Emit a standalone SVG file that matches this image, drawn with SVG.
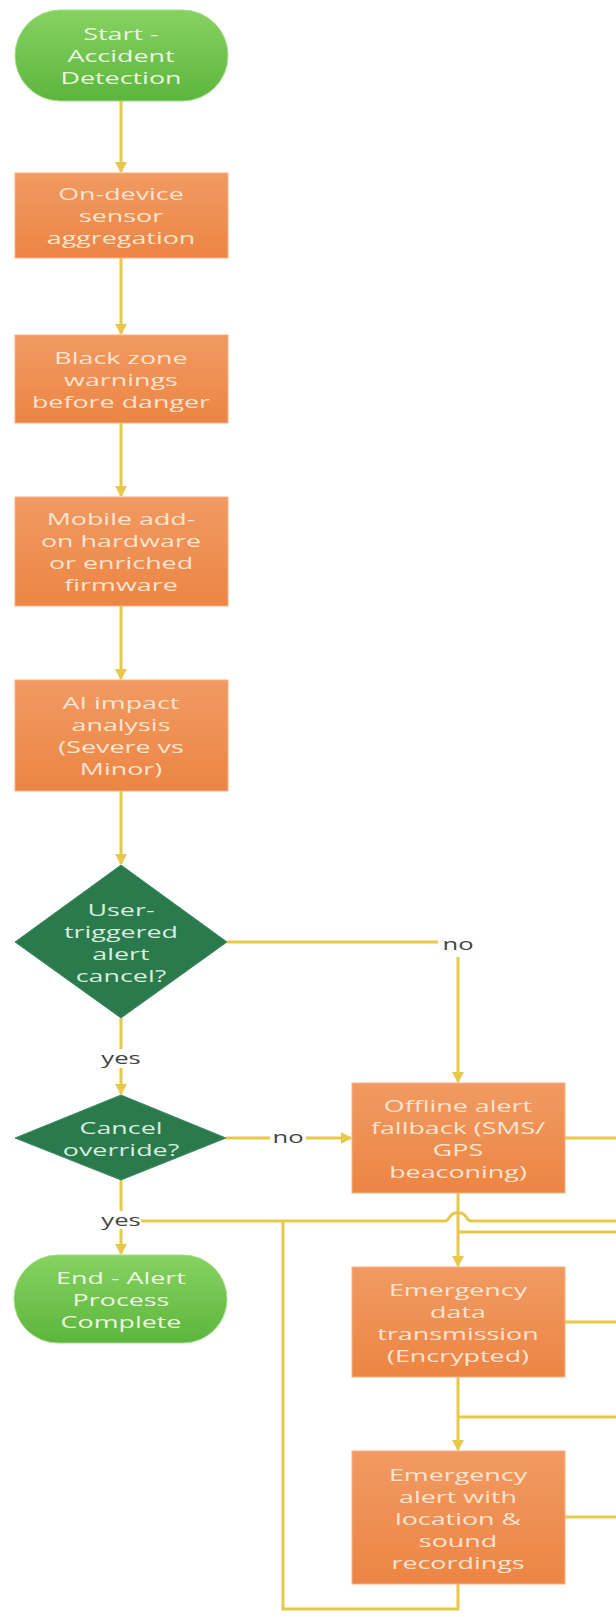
<svg xmlns="http://www.w3.org/2000/svg" width="616" height="1617" viewBox="0 0 616 1617">
<style>
.conn{fill:none;stroke:#e7c84a;stroke-width:3}
.box{fill:url(#og);stroke:#f6b285;stroke-width:1}
.term{fill:url(#gg);stroke:#a6dc8a;stroke-width:1}
.dia{fill:#2b7a4d;stroke:#3d8c5e;stroke-width:1}
.t{font-family:"Open Sans","Noto Sans",sans-serif;font-size:17px;text-anchor:middle}
.tb{fill:#fde4d0}
.tg{fill:#ecf7e0}
.td{fill:#d8eede}
.lbl{font-family:"Open Sans","Noto Sans",sans-serif;font-size:16px;text-anchor:middle;fill:#444444}
</style>
<defs>
<linearGradient id="og" x1="0" y1="0" x2="0" y2="1"><stop offset="0" stop-color="#f19a62"/><stop offset="1" stop-color="#ec8544"/></linearGradient>
<linearGradient id="gg" x1="0" y1="0" x2="0" y2="1"><stop offset="0" stop-color="#86d262"/><stop offset="1" stop-color="#5cb63c"/></linearGradient>
<marker id="ah" markerUnits="userSpaceOnUse" markerWidth="12" markerHeight="12" refX="10" refY="6" orient="auto"><path d="M0,0 L11,6 L0,12 z" fill="#e7c84a"/></marker>
</defs>
<rect width="616" height="1617" fill="#ffffff"/>
<g id="connectors">
<path class="conn" d="M121,100 V172" marker-end="url(#ah)"/>
<path class="conn" d="M121,258 V334" marker-end="url(#ah)"/>
<path class="conn" d="M121,423 V496" marker-end="url(#ah)"/>
<path class="conn" d="M121,606 V679" marker-end="url(#ah)"/>
<path class="conn" d="M121,791 V864" marker-end="url(#ah)"/>
<path class="conn" d="M227,942 H438"/>
<path class="conn" d="M458,957 V1082" marker-end="url(#ah)"/>
<path class="conn" d="M121,1018 V1049"/>
<path class="conn" d="M121,1068 V1094" marker-end="url(#ah)"/>
<path class="conn" d="M226,1138 H270"/>
<path class="conn" d="M306,1138 H351" marker-end="url(#ah)"/>
<path class="conn" d="M121,1180 V1211"/>
<path class="conn" d="M121,1229 V1254" marker-end="url(#ah)"/>
<path class="conn" d="M458,1193 V1266" marker-end="url(#ah)"/>
<path class="conn" d="M565,1138 H616"/>
<path class="conn" d="M616,1221 H471 C466,1221 467,1213 460,1213 H456 C449,1213 450,1221 445,1221 H141"/>
<path class="conn" d="M283,1221 V1609 H458 V1584"/>
<path class="conn" d="M616,1232 H458"/>
<path class="conn" d="M565,1322 H616"/>
<path class="conn" d="M458,1377 V1450" marker-end="url(#ah)"/>
<path class="conn" d="M616,1417 H458"/>
<path class="conn" d="M565,1517 H616"/>
<g transform="translate(458,0) scale(1.6,1)"><text class="lbl" x="0" y="950">no</text></g>
<g transform="translate(121,0) scale(1.6,1)"><text class="lbl" x="0" y="1064">yes</text></g>
<g transform="translate(288,0) scale(1.6,1)"><text class="lbl" x="0" y="1143">no</text></g>
<g transform="translate(121,0) scale(1.6,1)"><text class="lbl" x="0" y="1226">yes</text></g>
</g>
<g id="start">
<rect class="term" x="15" y="10" width="213" height="91" rx="45.5"/>
<g transform="translate(121,0) scale(1.58,1)"><text class="t tg" x="0" y="40">Start -</text><text class="t tg" x="0" y="62">Accident</text><text class="t tg" x="0" y="84">Detection</text></g>
</g>
<g id="sensor">
<rect class="box" x="15" y="173" width="213" height="85"/>
<g transform="translate(121,0) scale(1.58,1)"><text class="t tb" x="0" y="200.5">On-device</text><text class="t tb" x="0" y="222.5">sensor</text><text class="t tb" x="0" y="244.5">aggregation</text></g>
</g>
<g id="blackzone">
<rect class="box" x="15" y="335" width="213" height="88"/>
<g transform="translate(121,0) scale(1.58,1)"><text class="t tb" x="0" y="364">Black zone</text><text class="t tb" x="0" y="386">warnings</text><text class="t tb" x="0" y="408">before danger</text></g>
</g>
<g id="hardware">
<rect class="box" x="15" y="497" width="213" height="109"/>
<g transform="translate(121,0) scale(1.58,1)"><text class="t tb" x="0" y="525.5">Mobile add-</text><text class="t tb" x="0" y="547.5">on hardware</text><text class="t tb" x="0" y="569.5">or enriched</text><text class="t tb" x="0" y="591.5">firmware</text></g>
</g>
<g id="ai">
<rect class="box" x="15" y="680" width="213" height="111"/>
<g transform="translate(121,0) scale(1.58,1)"><text class="t tb" x="0" y="709.5">AI impact</text><text class="t tb" x="0" y="731.5">analysis</text><text class="t tb" x="0" y="753.5">(Severe vs</text><text class="t tb" x="0" y="775.5">Minor)</text></g>
</g>
<g id="usercancel">
<polygon class="dia" points="121,865 227,942 121,1018 15,942"/>
<g transform="translate(121,0) scale(1.58,1)"><text class="t td" x="0" y="916">User-</text><text class="t td" x="0" y="938">triggered</text><text class="t td" x="0" y="960">alert</text><text class="t td" x="0" y="982">cancel?</text></g>
</g>
<g id="override">
<polygon class="dia" points="121,1095 226,1138 121,1180 15,1138"/>
<g transform="translate(121,0) scale(1.58,1)"><text class="t td" x="0" y="1134">Cancel</text><text class="t td" x="0" y="1156">override?</text></g>
</g>
<g id="offline">
<rect class="box" x="352" y="1083" width="213" height="110"/>
<g transform="translate(458,0) scale(1.58,1)"><text class="t tb" x="0" y="1112">Offline alert</text><text class="t tb" x="0" y="1134">fallback (SMS/</text><text class="t tb" x="0" y="1156">GPS</text><text class="t tb" x="0" y="1178">beaconing)</text></g>
</g>
<g id="end">
<rect class="term" x="14" y="1255" width="213" height="88" rx="44"/>
<g transform="translate(121,0) scale(1.58,1)"><text class="t tg" x="0" y="1284">End - Alert</text><text class="t tg" x="0" y="1306">Process</text><text class="t tg" x="0" y="1328">Complete</text></g>
</g>
<g id="datatx">
<rect class="box" x="352" y="1267" width="213" height="110"/>
<g transform="translate(458,0) scale(1.58,1)"><text class="t tb" x="0" y="1296">Emergency</text><text class="t tb" x="0" y="1318">data</text><text class="t tb" x="0" y="1340">transmission</text><text class="t tb" x="0" y="1362">(Encrypted)</text></g>
</g>
<g id="alert">
<rect class="box" x="352" y="1451" width="213" height="133"/>
<g transform="translate(458,0) scale(1.58,1)"><text class="t tb" x="0" y="1481">Emergency</text><text class="t tb" x="0" y="1503">alert with</text><text class="t tb" x="0" y="1525">location &amp;</text><text class="t tb" x="0" y="1547">sound</text><text class="t tb" x="0" y="1569">recordings</text></g>
</g>
</svg>
